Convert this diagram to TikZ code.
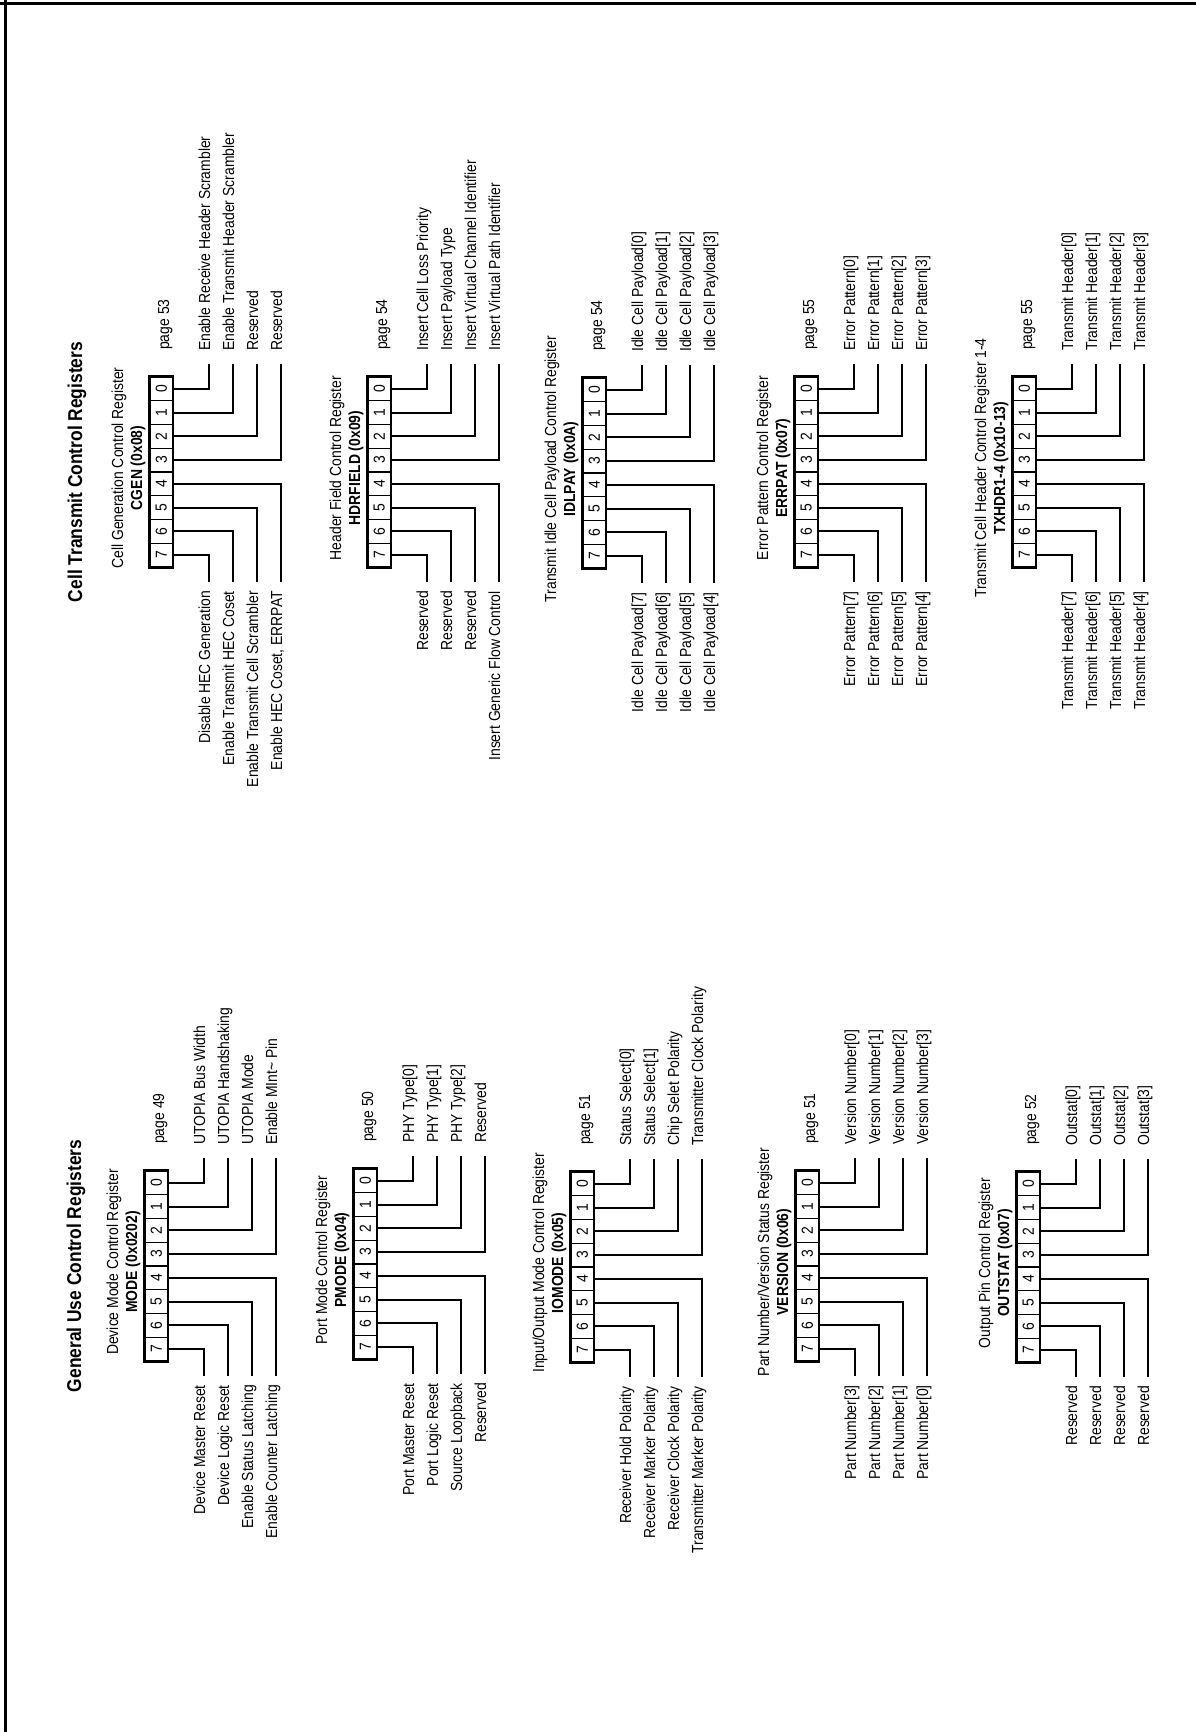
\documentclass[tikz,border=0pt]{standalone}
\usepackage{fontspec}
\setmainfont{Liberation Sans}[FakeStretch=0.87]
\usepackage{tikz}
\usetikzlibrary{positioning,calc}

\tikzset{
  bitcell/.style={draw,line width=1.4pt,minimum width=23.75pt,minimum height=22.5pt,
                  inner sep=0pt,font=\fontsize{16}{19}\selectfont},
  regframe/.style={draw,line width=2.2pt},
  lead/.style={line width=2pt},
  reglabel/.style={inner sep=0pt,font=\fontsize{16}{19}\selectfont},
  regtitle/.style={inner sep=0pt,anchor=base,font=\fontsize{16}{19}\selectfont},
  regname/.style={inner sep=0pt,anchor=base,font=\fontsize{16}{19}\selectfont\bfseries},
  pagelabel/.style={inner sep=0pt,anchor=base west,font=\fontsize{16}{19}\selectfont},
  heading/.style={inner sep=0pt,anchor=base,font=\fontsize{20}{24}\selectfont\bfseries},
  pageedge/.style={line width=2.5pt}
}

% #1 id, #2 #3 box corner, #4 title, #5 name, #6 page, #7 labels (bits 7,6,5,4,0,1,2,3)
\newcommand{\register}[7]{%
  \begin{scope}[shift={(#2,#3)}]
    \foreach \b in {0,...,7}
      \node[bitcell] (#1-\b) at ({(7-\b)*23.75+11.875},11.25) {\b};
    \draw[regframe] (#1-7.north west) rectangle (#1-0.south east);
    \node[regtitle] (#1-title) at (99,-27) {#4};
    \node[regname] (#1-name) at (99,-8) {#5};
    \node[pagelabel] (#1-page) at (217,19) {page #6};
    \foreach \lbl [count=\k from 0] in {#7} {
      \pgfmathtruncatemacro{\lev}{mod(\k,4)}
      \pgfmathsetmacro{\ly}{59+24*\lev}
      \ifnum\k<4
        \pgfmathtruncatemacro{\bt}{7-\lev}
        \coordinate (#1-e\bt) at (-15,\ly);
        \node[reglabel,anchor=base east] (#1-l\bt) at (-24,{\ly+1}) {\lbl};
      \else
        \pgfmathtruncatemacro{\bt}{\lev}
        \coordinate (#1-e\bt) at (203,\ly);
        \node[reglabel,anchor=base west] (#1-l\bt) at (216,{\ly+1}) {\lbl};
      \fi
      \draw[lead] (#1-\bt.south) |- (#1-e\bt);
    }
  \end{scope}}

\begin{document}
\begin{tikzpicture}[rotate=90,transform shape,x=1pt,y=-1pt]
  \useasboundingbox (0,0) rectangle (1732,1196);
  \draw[pageedge] (0,5.5) -- (1732,5.5);
  \draw[pageedge] (1728.5,0) -- (1728.5,1196);

  \node[heading] (genhead) at (466,81) {General Use Control Registers};
  \node[heading] (cellhead) at (1260,82) {Cell Transmit Control Registers};

  % general use registers
  \register{mode}{371}{145}{Device Mode Control Register}{MODE (0x0202)}{49}
    {Device Master Reset,Device Logic Reset,Enable Status Latching,Enable Counter Latching,
     UTOPIA Bus Width,UTOPIA Handshaking,UTOPIA Mode,Enable MInt\textasciitilde{} Pin}
  \register{pmode}{373}{354}{Port Mode Control Register}{PMODE (0x04)}{50}
    {Port Master Reset,Port Logic Reset,Source Loopback,Reserved,
     PHY Type[0],PHY Type[1],PHY Type[2],Reserved}
  \register{iomode}{370}{571}{Input/Output Mode Control Register}{IOMODE (0x05)}{51}
    {Receiver Hold Polarity,Receiver Marker Polarity,Receiver Clock Polarity,Transmitter Marker Polarity,
     Status Select[0],Status Select[1],Chip Selet Polarity,Transmitter Clock Polarity}
  \register{version}{371}{796}{Part Number/Version Status Register}{VERSION (0x06)}{51}
    {Part Number[3],Part Number[2],Part Number[1],Part Number[0],
     Version Number[0],Version Number[1],Version Number[2],Version Number[3]}
  \register{outstat}{370}{1017}{Output Pin Control Register}{OUTSTAT (0x07)}{52}
    {Reserved,Reserved,Reserved,Reserved,
     Outstat[0],Outstat[1],Outstat[2],Outstat[3]}

  % cell transmit registers
  \register{cgen}{1165}{150}{Cell Generation Control Register}{CGEN (0x08)}{53}
    {Disable HEC Generation,Enable Transmit HEC Coset,Enable Transmit Cell Scrambler,{Enable HEC Coset, ERRPAT},
     Enable Receive Header Scrambler,Enable Transmit Header Scrambler,Reserved,Reserved}
  \register{hdrfield}{1165}{368}{Header Field Control Register}{HDRFIELD (0x09)}{54}
    {Reserved,Reserved,Reserved,Insert Generic Flow Control,
     Insert Cell Loss Priority,Insert Payload Type,Insert Virtual Channel Identifier,Insert Virtual Path Identifier}
  \register{idlpay}{1164}{583}{Transmit Idle Cell Payload Control Register}{IDLPAY (0x0A)}{54}
    {Idle Cell Payload[7],Idle Cell Payload[6],Idle Cell Payload[5],Idle Cell Payload[4],
     Idle Cell Payload[0],Idle Cell Payload[1],Idle Cell Payload[2],Idle Cell Payload[3]}
  \register{errpat}{1165}{795}{Error Pattern Control Register}{ERRPAT (0x07)}{55}
    {Error Pattern[7],Error Pattern[6],Error Pattern[5],Error Pattern[4],
     Error Pattern[0],Error Pattern[1],Error Pattern[2],Error Pattern[3]}
  \register{txhdr}{1165}{1013}{Transmit Cell Header Control Register 1-4}{TXHDR1-4 (0x10-13)}{55}
    {Transmit Header[7],Transmit Header[6],Transmit Header[5],Transmit Header[4],
     Transmit Header[0],Transmit Header[1],Transmit Header[2],Transmit Header[3]}
\end{tikzpicture}
\end{document}
